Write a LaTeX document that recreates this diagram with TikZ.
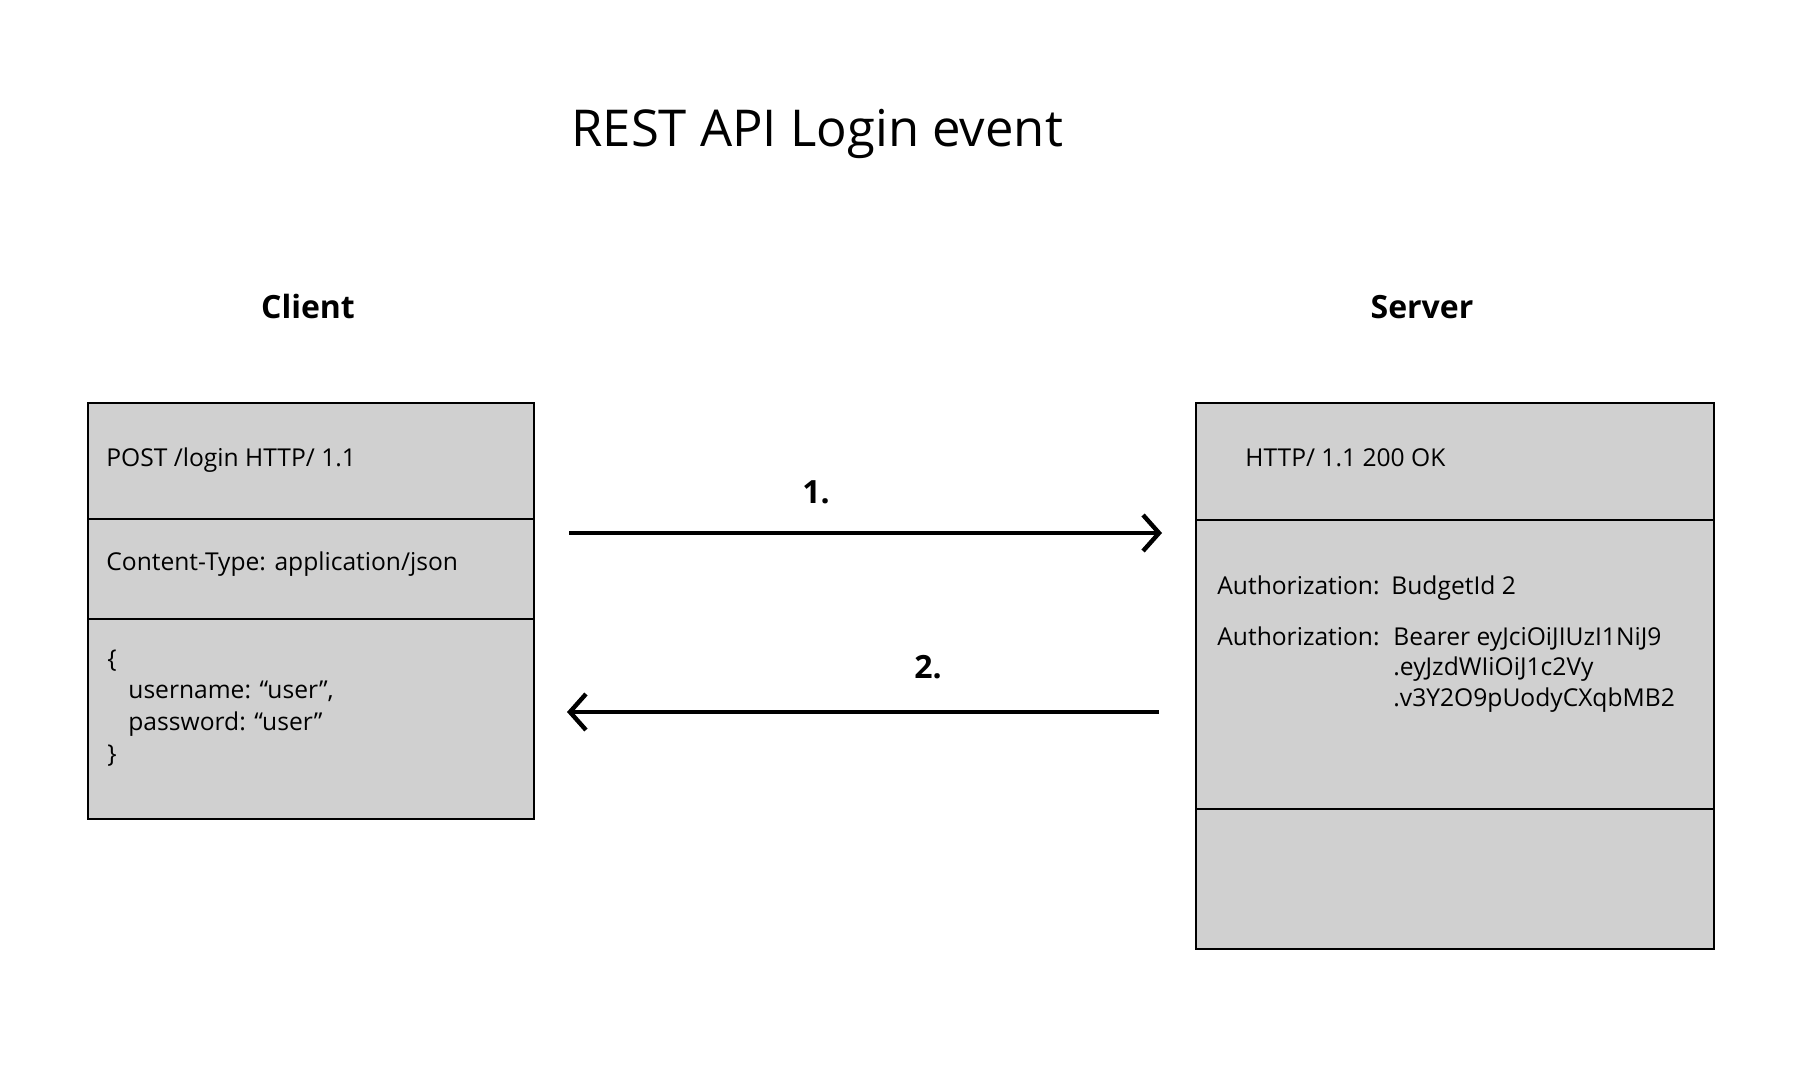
\documentclass[tikz,border=0pt]{standalone}
\usepackage{fontspec}
\setmainfont{Open Sans}
\usetikzlibrary{arrows.meta}
\definecolor{boxgray}{RGB}{208,208,208}
\tikzset{
  box/.style={draw=black, fill=boxgray, line width=1pt, inner sep=0pt, anchor=north west},
  txt/.style={anchor=base west, inner sep=0pt, font=\fontsize{12.3}{14}\selectfont},
  lbl/.style={anchor=base, inner sep=0pt, font=\fontsize{16}{19}\selectfont\bfseries},
  msg/.style={line width=2.2pt, -{Straight Barb[length=8pt,width=18pt]}}
}

\begin{document}
\begin{tikzpicture}[x=0.5pt,y=-0.5pt]
\useasboundingbox (0,0) rectangle (1814,1074);
\node[anchor=base west, inner sep=0pt, font=\fontsize{25.4}{30}\selectfont] (title) at (571,147) {REST API Login event};

\node[lbl] (clientlbl) at (308,319) {Client};
\node[lbl] (serverlbl) at (1422,319) {Server};

% client request
\node[box, minimum width=223pt, minimum height=208pt] (client) at (87,402) {};
\draw[line width=1pt] (87,519) -- (533,519);
\draw[line width=1pt] (87,619) -- (533,619);
\node[txt] (post) at (106,467) {POST /login HTTP/ 1.1};
\node[txt] (ctype) at (106,570) {Content-Type: application/json};
\node[txt] (open) at (107,667) {\{};
\node[txt] (uname) at (128,698) {username: “user”,};
\node[txt] (pword) at (128,730) {password: “user”};
\node[txt] (close) at (107,762) {\}};

% server response
\node[box, minimum width=259pt, minimum height=273pt] (server) at (1195,402) {};
\draw[line width=1pt] (1195,520) -- (1713,520);
\draw[line width=1pt] (1195,809) -- (1713,809);
\node[txt] (status) at (1245,467) {HTTP/ 1.1 200 OK};
\node[txt] (auth1) at (1217,594) {Authorization:};
\node[txt] (budget) at (1391,594) {BudgetId 2};
\node[txt] (auth2) at (1217,645) {Authorization:};
\node[txt] (tok1) at (1393,645) {Bearer eyJciOiJIUzI1NiJ9};
\node[txt] (tok2) at (1393,675) {.eyJzdWIiOiJ1c2Vy};
\node[txt] (tok3) at (1393,706) {.v3Y2O9pUodyCXqbMB2};

% messages
\coordinate (req1) at (569,533);
\coordinate (req2) at (1162,533);
\coordinate (res1) at (1159,712);
\coordinate (res2) at (567,712);
\draw[msg] (req1) -- (req2);
\draw[msg] (res1) -- (res2);
\node[lbl] (one) at (816,503) {1.};
\node[lbl] (two) at (928,678) {2.};
\end{tikzpicture}
\end{document}
